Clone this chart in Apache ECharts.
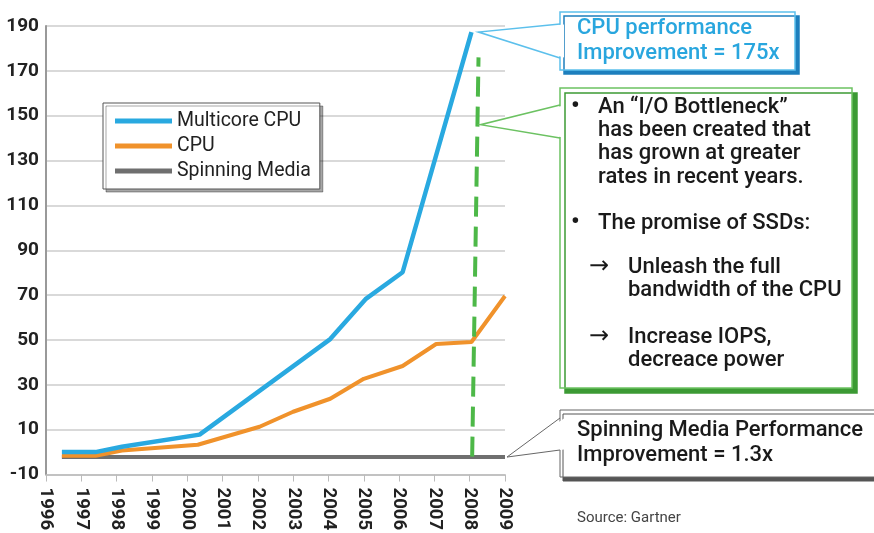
<!DOCTYPE html>
<html>
<head>
<meta charset="utf-8">
<script src="https://cdn.jsdelivr.net/npm/echarts@6/dist/echarts.min.js"></script>
<style>
  html, body { margin: 0; padding: 0; background: #fff; }
  #main { width: 874px; height: 533px; }
</style>
</head>
<body>
<div id="main"></div>
<script>
// x positions are years (some points sit between year ticks)
const multicoreX = [1996.45, 1997.4, 1998.15, 2000.35, 2004.05, 2005.05, 2006.1, 2008.05];
const multicoreY = [0, 0, 2.4, 7.8, 50.4, 68.2, 80.2, 187.3];
const cpuX = [1996.45, 1997.4, 1998.15, 2000.3, 2002.05, 2003, 2004.05, 2005, 2006.1, 2007.05, 2008.05, 2009];
const cpuY = [-1.6, -1.6, 0.7, 3.3, 11.3, 18, 23.8, 32.7, 38.4, 48.2, 49.1, 69.6];
const spinX = [1996.45, 2009];
const spinY = [-2.2, -2.2];
const markerX = [2008.07, 2008.25];
const markerY = [-2, 176];
const yTicks = [-10, 10, 30, 50, 70, 90, 110, 130, 150, 170, 190];
const yearTicks = [1996, 1997, 1998, 1999, 2000, 2001, 2002, 2003, 2004, 2005, 2006, 2007, 2008, 2009];

const FONT = 'Roboto, "Liberation Sans", Arial, sans-serif';

function pairs(xs, ys) {
  return xs.map((x, i) => [x, ys[i]]);
}

const chart = echarts.init(document.getElementById('main'));

var option = {
  animation: false,
  textStyle: { fontFamily: FONT },
  grid: { left: 46, right: 369, top: 26, bottom: 57 },
  legend: {
    data: ['Multicore CPU', 'CPU', 'Spinning Media'],
    orient: 'vertical',
    left: 103,
    top: 103,
    padding: [8, 9, 8, 12],
    itemGap: 5,
    itemWidth: 57,
    itemHeight: 5,
    icon: 'rect',
    backgroundColor: '#fff',
    borderColor: '#555',
    borderWidth: 1,
    shadowColor: 'rgba(0,0,0,0.35)',
    shadowOffsetX: 3,
    shadowOffsetY: 3,
    textStyle: { fontSize: 19.5, color: '#222', fontFamily: FONT }
  },
  xAxis: {
    type: 'value',
    min: yearTicks[0],
    max: yearTicks[yearTicks.length - 1],
    interval: 1,
    axisLine: { onZero: false, lineStyle: { color: '#bbb', width: 1.5 } },
    axisTick: { show: true, length: 7, lineStyle: { color: '#bbb' } },
    splitLine: { show: false },
    axisLabel: {
      rotate: -90,
      margin: 13,
      fontSize: 18.5,
      fontWeight: 'bold',
      color: '#222',
      formatter: v => String(v)
    }
  },
  yAxis: {
    type: 'value',
    min: yTicks[0],
    max: yTicks[yTicks.length - 1],
    interval: 20,
    axisLine: { show: true, lineStyle: { color: '#999', width: 2 } },
    axisTick: { show: false },
    splitLine: { lineStyle: { color: '#ccc', width: 1.5 } },
    axisLabel: { fontSize: 19, fontWeight: 'bold', color: '#222', margin: 7 }
  },
  series: [
    {
      name: 'Spinning Media',
      type: 'line',
      symbol: 'none',
      color: '#6f6f6f',
      lineStyle: { width: 4, color: '#6f6f6f' },
      data: pairs(spinX, spinY)
    },
    {
      name: 'CPU',
      type: 'line',
      symbol: 'none',
      color: '#f0922b',
      lineStyle: { width: 4, color: '#f0922b' },
      data: pairs(cpuX, cpuY)
    },
    {
      name: 'Multicore CPU',
      type: 'line',
      symbol: 'none',
      color: '#29a9e0',
      lineStyle: { width: 4.5, color: '#29a9e0' },
      data: pairs(multicoreX, multicoreY)
    },
    {
      name: 'marker',
      type: 'line',
      symbol: 'none',
      silent: true,
      lineStyle: { width: 4, color: '#4db848', type: [20, 10] },
      data: pairs(markerX, markerY)
    }
  ]
};
chart.setOption(option);

// callouts: boxes with a pointer tail whose tip follows the data
function callout(box, tip, y1, y2, stroke, shadow, lw, sOff) {
  const bx = box[0];
  return [
    {
      type: 'rect',
      shape: { x: box[0], y: box[1], width: box[2], height: box[3] },
      style: {
        fill: '#fff', stroke: stroke, lineWidth: lw,
        shadowColor: shadow, shadowOffsetX: sOff[0], shadowOffsetY: sOff[1], shadowBlur: 0
      },
      z: 100
    },
    {
      type: 'polygon',
      shape: { points: [tip, [bx + 4, y1 + 0.5], [bx + 4, y2 - 0.5]] },
      style: { fill: '#fff', stroke: null },
      z: 101
    },
    {
      type: 'polyline',
      shape: { points: [[bx, y1], tip, [bx, y2]] },
      style: { stroke: stroke, lineWidth: lw, fill: null },
      z: 102
    }
  ];
}

function label(x, y, text, color, size, weight, family) {
  return {
    type: 'text',
    x: x,
    y: y,
    z: 103,
    style: {
      text: text,
      fill: color,
      font: (weight || 500) + ' ' + (size || 22) + 'px ' + (family || FONT),
      verticalAlign: 'middle'
    }
  };
}

const peak = chart.convertToPixel({ gridIndex: 0 }, [multicoreX[multicoreX.length - 1], multicoreY[multicoreY.length - 1]]);
const gapTip = chart.convertToPixel({ gridIndex: 0 }, [2008.25, 146]);
const spinEnd = chart.convertToPixel({ gridIndex: 0 }, [spinX[1], spinY[1]]);

let elements = [];
elements = elements.concat(callout([560, 12, 235, 58], [peak[0] + 7, peak[1]], 24, 58, '#5cc0ec', '#1d7fbd', 1.5, [4, 4]));
elements.push(label(577, 28, 'CPU performance', '#29a6de', 22));
elements.push(label(577, 53, 'Improvement = 175x', '#29a6de', 22));

elements = elements.concat(callout([560, 88, 292, 300], [gapTip[0] + 2, gapTip[1]], 105, 138, '#6cc262', '#3c9a34', 1.5, [5, 5]));
const bullets = [[107, '•'], [223, '•']];
bullets.forEach(b => elements.push(label(571, b[0], b[1], '#1a1a1a', 24, 'bold')));
const arrows = [[267, '→'], [337, '→']];
arrows.forEach(a => elements.push(label(589, a[0], a[1], '#1a1a1a', 24, 'normal', '"DejaVu Sans", sans-serif')));
const greenLines = [
  [598, 107, 'An “I/O Bottleneck”'],
  [598, 130, 'has been created that'],
  [598, 153, 'has grown at greater'],
  [598, 177, 'rates in recent years.'],
  [598, 223, 'The promise of SSDs:'],
  [628, 267, 'Unleash the full'],
  [628, 290, 'bandwidth of the CPU'],
  [628, 337, 'Increase IOPS,'],
  [628, 360, 'decreace power']
];
greenLines.forEach(l => elements.push(label(l[0], l[1], l[2], '#1a1a1a', 22)));

elements = elements.concat(callout([560, 410, 330, 67], [spinEnd[0] + 2, spinEnd[1]], 418, 450, '#666', '#555', 1, [3, 4]));
elements.push(label(577, 430, 'Spinning Media Performance', '#1a1a1a', 22));
elements.push(label(577, 455, 'Improvement = 1.3x', '#1a1a1a', 22));
elements.push(label(577, 518, 'Source: Gartner', '#444', 15, 'normal'));

chart.setOption({ graphic: { elements: elements } });
</script>
</body>
</html>
